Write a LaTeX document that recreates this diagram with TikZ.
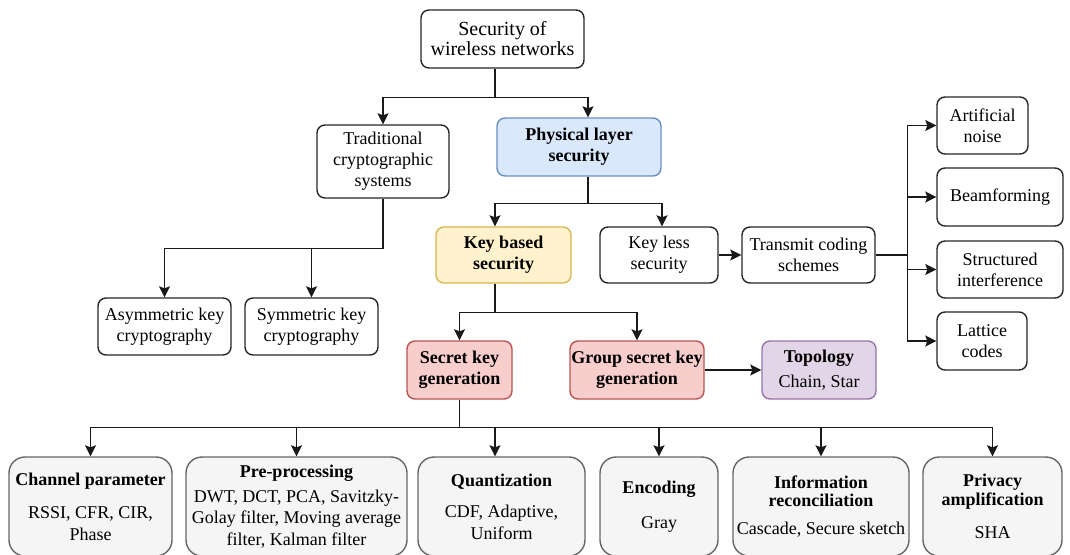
\documentclass[tikz,border=0pt]{standalone}
\usepackage{fontspec}
\setmainfont{Liberation Serif}
\usetikzlibrary{arrows.meta}
\definecolor{bluefill}{HTML}{DAE8FC}
\definecolor{bluedraw}{HTML}{6C8EBF}
\definecolor{yellowfill}{HTML}{FFF2CC}
\definecolor{yellowdraw}{HTML}{D6B656}
\definecolor{redfill}{HTML}{F8CECC}
\definecolor{reddraw}{HTML}{B85450}
\definecolor{purplefill}{HTML}{E1D5E7}
\definecolor{purpledraw}{HTML}{9673A6}
\definecolor{grayfill}{HTML}{F5F5F5}
\definecolor{graydraw}{HTML}{666666}

\begin{document}
\begin{tikzpicture}[x=1pt, y=-1pt, font=\fontsize{18}{21}\selectfont,
  box/.style={draw=black!85, line width=1.4pt, rounded corners=8pt, fill=white,
    align=center, inner sep=1pt},
  bluebox/.style={box, draw=bluedraw, fill=bluefill, font=\fontsize{18}{21}\selectfont\bfseries},
  yellowbox/.style={box, draw=yellowdraw, fill=yellowfill, font=\fontsize{18}{21}\selectfont\bfseries},
  redbox/.style={box, draw=reddraw, fill=redfill, font=\fontsize{18}{21}\selectfont\bfseries},
  purplebox/.style={box, draw=purpledraw, fill=purplefill},
  graybox/.style={box, draw=graydraw, fill=grayfill, rounded corners=16pt,
    minimum height=99pt, font=\fontsize{18}{21.5}\selectfont},
  line/.style={line width=1.5pt, black!90},
  arr/.style={line, -{Stealth[length=11pt,width=11pt,inset=2pt]}}]
\useasboundingbox (0,0) rectangle (1070,554);

\node[box, minimum width=163pt, minimum height=58pt, font=\fontsize{20}{20}\selectfont] (root) at (502.5,39) {Security of\\wireless networks};
\node[box, minimum width=132pt, minimum height=73pt] (trad) at (383,161.5) {Traditional\\cryptographic\\systems};
\node[bluebox, minimum width=164pt, minimum height=58pt] (phy) at (579,147) {Physical layer\\security};
\node[yellowbox, minimum width=135pt, minimum height=56pt] (kb) at (503.5,255) {Key based\\security};
\node[box, minimum width=118pt, minimum height=56pt] (kl) at (659,255) {Key less\\security};
\node[box, minimum width=133pt, minimum height=56pt] (tcs) at (808.5,255) {Transmit coding\\schemes};
\node[box, minimum width=91pt, minimum height=57pt] (noise) at (982.5,125.5) {Artificial\\noise};
\node[box, minimum width=126pt, minimum height=58pt] (beam) at (1000,197) {Beamforming};
\node[box, minimum width=126pt, minimum height=57pt] (struct) at (1000,269.5) {Structured\\interference};
\node[box, minimum width=90pt, minimum height=58pt] (lattice) at (982,341) {Lattice\\codes};
\node[box, minimum width=133pt, minimum height=57pt] (asym) at (164.5,326.5) {Asymmetric key\\cryptography};
\node[box, minimum width=133pt, minimum height=57pt] (sym) at (311.5,326.5) {Symmetric key\\cryptography};
\node[redbox, minimum width=105pt, minimum height=58pt] (skg) at (459.5,370) {Secret key\\generation};
\node[redbox, minimum width=134pt, minimum height=58pt] (gskg) at (637,370) {Group secret key\\generation};
\node[purplebox, minimum width=114pt, minimum height=58pt] (topo) at (819,370) {\textbf{Topology}\\[4pt]Chain, Star};

\node[graybox, minimum width=163pt] (chan) at (90.5,506.5) {\textbf{Channel parameter}\\[12pt]RSSI, CFR, CIR,\\Phase};
\node[graybox, minimum width=221pt] (pre) at (296.5,506.5) {\textbf{Pre-processing}\\[3pt]DWT, DCT, PCA, Savitzky-\\Golay filter, Moving average\\filter, Kalman filter};
\node[graybox, minimum width=167pt] (quant) at (501.5,506.5) {\textbf{Quantization}\\[10pt]CDF, Adaptive,\\Uniform};
\node[graybox, minimum width=118pt] (enc) at (659,506.5) {\textbf{Encoding}\\[14pt]Gray};
\node[graybox, minimum width=176pt] (info) at (821,506.5) {\textbf{Information}\\[-3pt]\textbf{reconciliation}\\[6pt]Cascade, Secure sketch};
\node[graybox, minimum width=139pt] (priv) at (992.5,506.5) {\textbf{Privacy}\\[-3pt]\textbf{amplification}\\[12pt]SHA};

\draw[line] ([xshift=-7.5pt]root.south) -- ++(0,29) coordinate (j1);
\draw[arr] (j1) -| (trad.north);
\draw[arr] (j1) -| ([xshift=9pt]phy.north);
\draw[line] (trad.south) -- ++(0,50) coordinate (j3);
\draw[arr] (j3) -| (asym.north);
\draw[arr] (j3) -| (sym.north);
\draw[line] ([xshift=9pt]phy.south) -- ++(0,27) coordinate (j2);
\draw[arr] (j2) -| ([xshift=-8.5pt]kb.north);
\draw[arr] (j2) -| ([xshift=3pt]kl.north);
\draw[arr] (kl) -- (tcs);
\draw[line] (tcs.east) -- ++(32,0) coordinate (j5);
\draw[arr] (j5) |- (noise);
\draw[arr] (j5) |- (beam);
\draw[arr] (j5) |- (struct);
\draw[arr] (j5) |- (lattice);
\draw[line] ([xshift=-8.5pt]kb.south) -- ++(0,29) coordinate (j4);
\draw[arr] (j4) -| (skg.north);
\draw[arr] (j4) -| (gskg.north);
\draw[arr] (gskg) -- (topo);
\draw[line] (skg.south) -- ++(0,28) coordinate (j6);
\draw[arr] (j6) -| (chan.north);
\draw[arr] (j6) -| (pre.north);
\draw[arr] (j6) -| ([xshift=-6.5pt]quant.north);
\draw[arr] (j6) -| (enc.north);
\draw[arr] (j6) -| (info.north);
\draw[arr] (j6) -| (priv.north);
\end{tikzpicture}
\end{document}
